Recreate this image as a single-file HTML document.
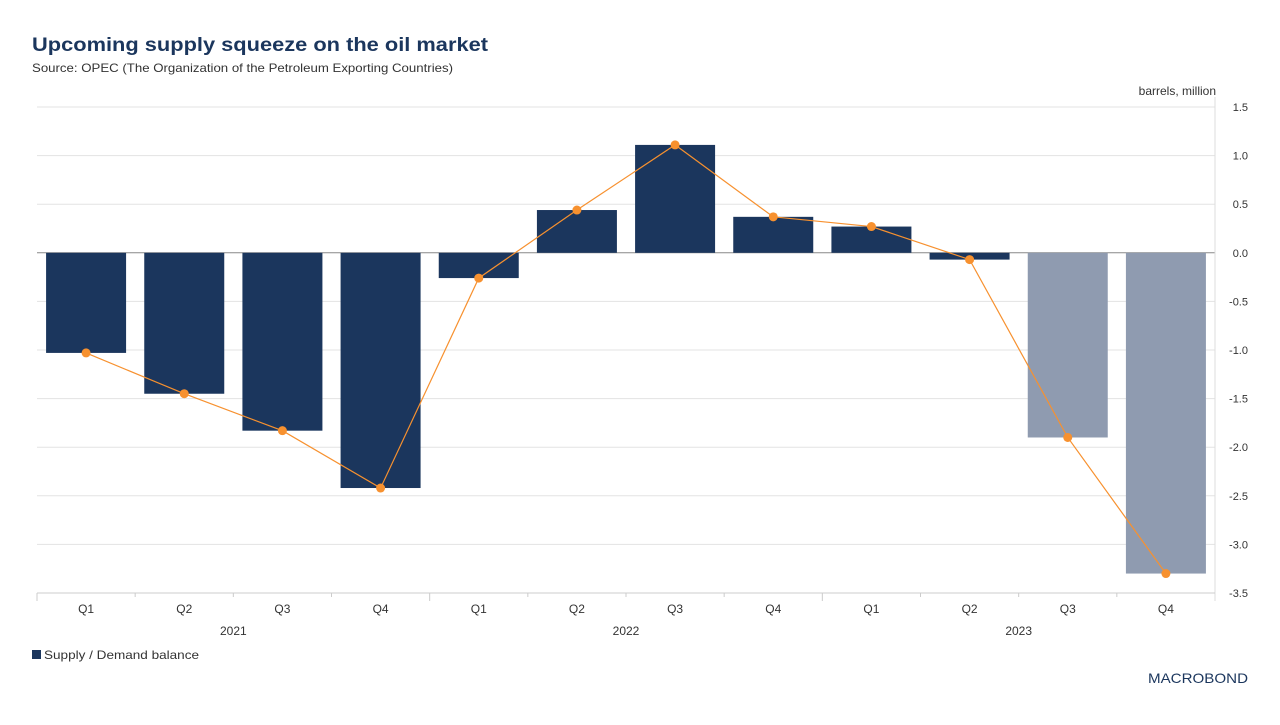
<!DOCTYPE html>
<html><head><meta charset="utf-8"><style>
body{margin:0;background:#fff;font-family:"Liberation Sans",sans-serif;}
svg text{font-family:"Liberation Sans",sans-serif;}
</style></head><body>
<svg id="c" width="1280" height="720">
<text x="32" y="51" font-size="19" font-weight="bold" fill="#1b365d" textLength="456" lengthAdjust="spacingAndGlyphs">Upcoming supply squeeze on the oil market</text>
<text x="32" y="72" font-size="12" fill="#333" textLength="421" lengthAdjust="spacingAndGlyphs">Source: OPEC (The Organization of the Petroleum Exporting Countries)</text>
<text x="1216" y="95" font-size="12" fill="#333" text-anchor="end">barrels, million</text>
<g id="grid"></g><g id="bars"></g><g id="line"></g><g id="xaxis"></g>
<rect x="32" y="650" width="9" height="9" fill="#1b365d"/>
<text x="44" y="659" font-size="12" fill="#333" textLength="155" lengthAdjust="spacingAndGlyphs">Supply / Demand balance</text>
<text x="1148" y="683" font-size="14" fill="#1b365d" textLength="100" lengthAdjust="spacingAndGlyphs">MACROBOND</text>
</svg>
<script>
const categories=["Q1","Q2","Q3","Q4","Q1","Q2","Q3","Q4","Q1","Q2","Q3","Q4"];
const years=["2021","2022","2023"];
const barValues=[-1.03,-1.45,-1.83,-2.42,-0.26,0.44,1.11,0.37,0.27,-0.07,-1.90,-3.30];
const lineValues=[-1.03,-1.45,-1.83,-2.42,-0.26,0.44,1.11,0.37,0.27,-0.07,-1.90,-3.30];
const forecast=[false,false,false,false,false,false,false,false,false,false,true,true];
const yTicks=[1.5,1.0,0.5,0.0,-0.5,-1.0,-1.5,-2.0,-2.5,-3.0,-3.5];
const NS="http://www.w3.org/2000/svg";
const x0=37,x1=1215,yTop=107,yBot=593,yMax=1.5,yMin=-3.5;
const bw=(x1-x0)/categories.length;
const y=v=>yTop+(yMax-v)/(yMax-yMin)*(yBot-yTop);
const xc=i=>x0+bw*(i+0.5);
function mk(t,a,p){const e=document.createElementNS(NS,t);for(const k in a)e.setAttribute(k,a[k]);p.appendChild(e);return e;}
const g=document.getElementById('grid');
yTicks.forEach(t=>{
 const l=mk('line',{x1:x0,x2:x1,y1:y(t),y2:y(t),stroke:t===0?'#888':'#e3e3e3','stroke-width':1},g);
 
 
 const tx=mk('text',{x:1248,y:y(t)+4,'font-size':11,fill:'#333','text-anchor':'end'},g);
 tx.textContent=t.toFixed(1);
 
 
});
mk('line',{x1:x1,x2:x1,y1:yTop-10,y2:yBot+8,stroke:'#ddd'},g);
const b=document.getElementById('bars');
barValues.forEach((v,i)=>{
 const r=mk('rect',{x:xc(i)-40,width:80,y:Math.min(y(v),y(0)),height:Math.abs(y(v)-y(0)),fill:forecast[i]?'#8f9bb0':'#1b365d'},b);
 
 
});
const L=document.getElementById('line');
const pl=mk('polyline',{points:lineValues.map((v,i)=>xc(i)+','+y(v)).join(' '),fill:'none',stroke:'#f7912f','stroke-width':1.2},L);


lineValues.forEach((v,i)=>{
 const c=mk('circle',{cx:xc(i),cy:y(v),r:4.5,fill:'#f7912f'},L);
 
 
});
const X=document.getElementById('xaxis');
mk('line',{x1:x0,x2:x1,y1:yBot,y2:yBot,stroke:'#ccc'},X);
categories.forEach((c,i)=>{
 mk('line',{x1:x0+bw*i,x2:x0+bw*i,y1:yBot,y2:yBot+(i%4===0?8:4),stroke:'#ccc'},X);
 const t=mk('text',{x:xc(i),y:613,'font-size':12,fill:'#333','text-anchor':'middle'},X);
 t.textContent=c;
 
 
});
years.forEach((yr,j)=>{
 const t=mk('text',{x:x0+bw*(4*j+2),y:635,'font-size':12,fill:'#333','text-anchor':'middle'},X);
 t.textContent=yr;
 
 
});
</script>
</body></html>
